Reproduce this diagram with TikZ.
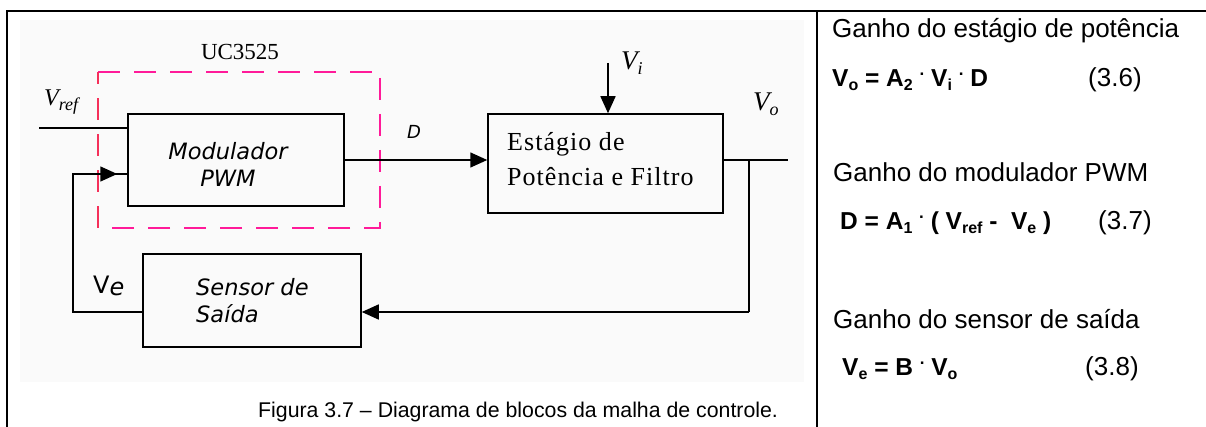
\documentclass[tikz,border=0pt]{standalone}
\usepackage{fontspec}
\setmainfont{Liberation Sans}
\newfontfamily\serifft{Liberation Serif}
\newfontfamily\serifsp[LetterSpace=4]{Liberation Serif}
\newfontfamily\djv{DejaVu Sans}
\usetikzlibrary{arrows.meta}
\definecolor{dashpink}{HTML}{FF1A99}
\definecolor{dashred}{HTML}{F5305A}
\definecolor{panelbg}{HTML}{FAFAFA}
\newcommand\eqsub[1]{\raisebox{-4pt}{\fontsize{16}{16}\selectfont #1}}
\newcommand\eqdot{\raisebox{11pt}{\fontsize{17}{17}\selectfont .}}
\newcommand\lblsub[1]{\raisebox{-5pt}{\fontsize{18}{18}\selectfont #1}}
\begin{document}
\begin{tikzpicture}[x=1pt,y=-1pt,
  blk/.style={draw,line width=1.5pt,rectangle,inner sep=0pt},
  wire/.style={line width=1.5pt},
  arr/.style={line width=1.5pt,-{Triangle[length=17pt,width=15pt]}},
  frameline/.style={line width=2.4pt},
  ucbox/.style={line width=1.7pt,dash pattern=on 22pt off 14pt},
  blktxt/.style={inner sep=0pt,font=\djv\itshape\fontsize{22.5}{27}\selectfont},
  sertxt/.style={inner sep=0pt,font=\serifsp\fontsize{26}{35}\selectfont},
  lbl/.style={anchor=base west,inner sep=0pt},
  head/.style={anchor=base west,inner sep=0pt,font=\fontsize{26}{26}\selectfont},
  eqn/.style={anchor=base west,inner sep=0pt,font=\bfseries\fontsize{24.5}{24.5}\selectfont},
  eqnum/.style={anchor=base west,inner sep=0pt,font=\fontsize{26}{26}\selectfont}
]
\useasboundingbox (0,0) rectangle (1206,427);
% background and frame
\fill[panelbg] (20,20) rectangle (804,382);
\draw[frameline] (7,427) -- (7,11) -- (1206,11);
\draw[frameline] (817,11) -- (817,427);

% UC3525 dashed box
\draw[ucbox,dashpink] (98,72) -- (380,72) -- (380,228) -- (98,228);
\draw[ucbox,dashred] (98,228) -- (98,72);
\node[font=\serifft\fontsize{23}{23}\selectfont,inner sep=0pt] (uc) at (240,52) {UC3525};

% blocks
\node[blk,minimum width=216pt,minimum height=92pt] (mod) at (236,160) {};
\node[blk,minimum width=235pt,minimum height=99pt] (est) at (605.5,163.5) {};
\node[blk,minimum width=218pt,minimum height=93pt] (sen) at (252,300.5) {};

\node[blktxt,align=center] (modt) at (228,164) {Modulador\\PWM};
\node[blktxt,align=left,anchor=west] (sent) at (196,301) {Sensor de\\Saída};
\node[sertxt,align=left,anchor=west] (estt) at (507,159) {Estágio de\\Potência e Filtro};

% coordinates
\coordinate (vrefin) at (39,128);
\coordinate (fbc) at (73,174);
\coordinate (fbl) at (73,312);
\coordinate (out) at (788,160);
\coordinate (tap) at (749,160);
\coordinate (tapb) at (749,312);
\coordinate (vi) at (608,63);

% connectors
\draw[wire] (vrefin) -- (mod.west |- vrefin);
\draw[arr] (mod.east) -- (mod.east -| est.west);
\draw[arr] (vi) -- (vi |- est.north);
\draw[wire] (est.east |- out) -- (out);
\draw[wire] (tap) -- (tapb);
\draw[arr] (tapb) -- (sen.east |- tapb);
\draw[wire] (sen.west |- fbl) -- (fbl) -- (fbc) -- (mod.west |- fbc);
\draw[arr] (fbc) -- ([xshift=-10pt]mod.west |- fbc);

% labels
\node[lbl,font=\serifft\itshape\fontsize{24}{24}\selectfont] (vref) at (44,106) {V\lblsub{ref}};
\node[lbl,font=\djv\itshape\fontsize{18}{18}\selectfont] (dl) at (407,139) {D};
\node[lbl,font=\serifft\itshape\fontsize{27}{27}\selectfont] (vil) at (621,70) {V\lblsub{i}};
\node[lbl,font=\serifft\itshape\fontsize{27}{27}\selectfont] (vol) at (753,111) {V\lblsub{o}};
\node[lbl,font=\djv\fontsize{24}{24}\selectfont] (vel) at (93,294) {V\raisebox{-2pt}{\itshape e}};

% caption
\node[anchor=base west,inner sep=0pt,font=\fontsize{21.3}{21.3}\selectfont] (cap) at (258,417) {Figura 3.7 – Diagrama de blocos da malha de controle.};

% right panel
\node[head] (h1) at (832,38) {Ganho do estágio de potência};
\node[eqn] (e1) at (832,87) {V\eqsub{o} = A\eqsub{2}\ \eqdot{}\ V\eqsub{i}\ \eqdot{}\ D};
\node[eqnum] (n1) at (1088,87) {(3.6)};
\node[head] (h2) at (833,182) {Ganho do modulador PWM};
\node[eqn] (e2) at (840,230) {D = A\eqsub{1} \eqdot{} ( V\eqsub{ref} -\ \ V\eqsub{e} )};
\node[eqnum] (n2) at (1098,230) {(3.7)};
\node[head] (h3) at (833,328) {Ganho do sensor de saída};
\node[eqn] (e3) at (842,375) {V\eqsub{e} = B \eqdot{} V\eqsub{o}};
\node[eqnum] (n3) at (1085,375) {(3.8)};
\end{tikzpicture}
\end{document}
